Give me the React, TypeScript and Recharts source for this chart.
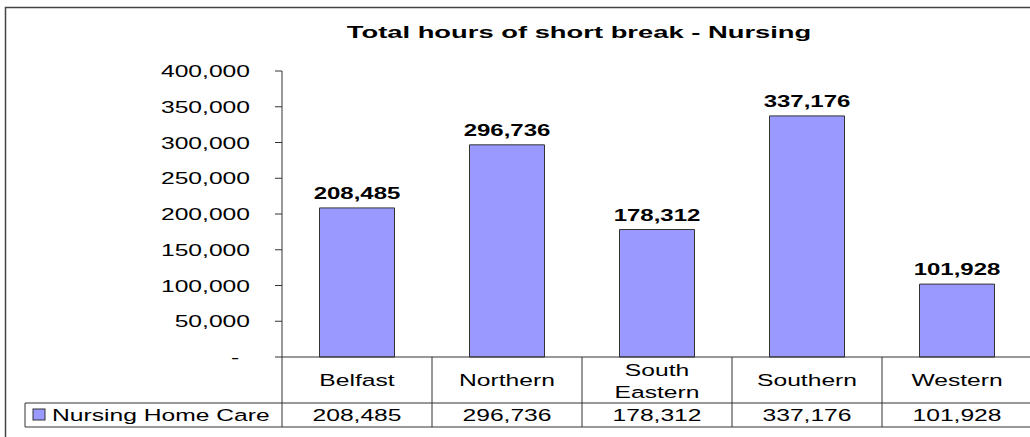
import React from "react";
import { Bar, BarChart, LabelList, XAxis, YAxis } from "recharts";

const title = "Total hours of short break - Nursing";
const seriesName = "Nursing Home Care";
const categories = ["Belfast", "Northern", "South Eastern", "Southern", "Western"];
const nursingHomeCare = [208485, 296736, 178312, 337176, 101928];
const yTicks = [0, 50000, 100000, 150000, 200000, 250000, 300000, 350000, 400000];

const rows = categories.map((name, i) => ({ name, value: nursingHomeCare[i] }));

const FONT = '"Liberation Sans", Arial, sans-serif';
const LINE = "#333";
const BAND = 150;

const fmt = (v: number) => v.toLocaleString("en-US");

function StretchText({
  x,
  y,
  sx,
  size,
  anchor = "middle",
  bold = false,
  children,
}: {
  x: number;
  y: number;
  sx: number;
  size: number;
  anchor?: "start" | "middle" | "end";
  bold?: boolean;
  children: React.ReactNode;
}) {
  return (
    <text
      transform={`translate(${x},${y}) scale(${sx},1)`}
      textAnchor={anchor}
      fontSize={size}
      fontWeight={bold ? 700 : 400}
      fontFamily={FONT}
      fill="#000"
    >
      {children}
    </text>
  );
}

function YTick({ x, y, payload }: any) {
  if (payload.value === 0) {
    return (
      <StretchText x={x - 38} y={y + 6} sx={1.45} size={17}>
        -
      </StretchText>
    );
  }
  return (
    <StretchText x={x - 23} y={y + 6} sx={1.45} size={17} anchor="end">
      {fmt(payload.value)}
    </StretchText>
  );
}

// category row + data row of the Excel style data table
function TableTick({ x, y, payload }: any) {
  const i = categories.indexOf(payload.value);
  const left = x - BAND / 2;
  const right = x + BAND / 2;
  const words = String(payload.value).split(" ");
  return (
    <g>
      <line x1={right} x2={right} y1={y} y2={y + 70} stroke={LINE} />
      <line x1={left} x2={right} y1={y + 46} y2={y + 46} stroke={LINE} />
      <line x1={left} x2={right} y1={y + 70} y2={y + 70} stroke={LINE} />
      {words.length === 1 ? (
        <StretchText x={x} y={y + 29} sx={1.45} size={17}>
          {words[0]}
        </StretchText>
      ) : (
        words.map((w, k) => (
          <StretchText key={w} x={x} y={y + 19 + k * 22} sx={1.45} size={17}>
            {w}
          </StretchText>
        ))
      )}
      <StretchText x={x} y={y + 64} sx={1.45} size={17}>
        {fmt(nursingHomeCare[i])}
      </StretchText>
      {i === 0 && (
        <g>
          <line x1={left} x2={left} y1={y} y2={y + 70} stroke={LINE} />
          <line x1={25} x2={left} y1={y + 46} y2={y + 46} stroke={LINE} />
          <line x1={25} x2={left} y1={y + 70} y2={y + 70} stroke={LINE} />
          <line x1={25} x2={25} y1={y + 46} y2={y + 70} stroke={LINE} />
          <rect x={33} y={y + 52} width={12} height={11} fill="#9999ff" stroke={LINE} />
          <StretchText x={52} y={y + 64} sx={1.45} size={17} anchor="start">
            {seriesName}
          </StretchText>
        </g>
      )}
    </g>
  );
}

function BarLabel({ x, y, width, value }: any) {
  return (
    <StretchText x={x + width / 2} y={y - 9} sx={1.5} size={16} bold>
      {fmt(value)}
    </StretchText>
  );
}

export default function App() {
  return (
    <div
      style={{
        position: "absolute",
        left: 0,
        top: 0,
        width: 1030,
        height: 437,
        overflow: "hidden",
        background: "#fff",
      }}
    >
      <BarChart
        width={1032}
        height={437}
        data={rows}
        margin={{ top: 71, right: 0, bottom: 0, left: 0 }}
        barCategoryGap="25%"
      >
        <YAxis
          width={282}
          domain={[0, 400000]}
          ticks={yTicks}
          interval={0}
          tickSize={7}
          tick={<YTick />}
          axisLine={{ stroke: LINE }}
          tickLine={{ stroke: LINE }}
        />
        <XAxis
          dataKey="name"
          height={80}
          interval={0}
          tickSize={0}
          tickMargin={0}
          tickLine={false}
          axisLine={{ stroke: LINE }}
          tick={<TableTick />}
        />
        <Bar
          dataKey="value"
          fill="#9999ff"
          stroke={LINE}
          strokeWidth={1}
          isAnimationActive={false}
        >
          <LabelList dataKey="value" content={<BarLabel />} />
        </Bar>
      </BarChart>
      <svg
        width={1030}
        height={437}
        style={{ position: "absolute", left: 0, top: 0, pointerEvents: "none" }}
      >
        <path d="M5.5 437 V7.5 H1030" fill="none" stroke="#444" strokeWidth={1.5} />
        <StretchText x={579} y={38} sx={1.71} size={16} bold>
          {title}
        </StretchText>
      </svg>
    </div>
  );
}
